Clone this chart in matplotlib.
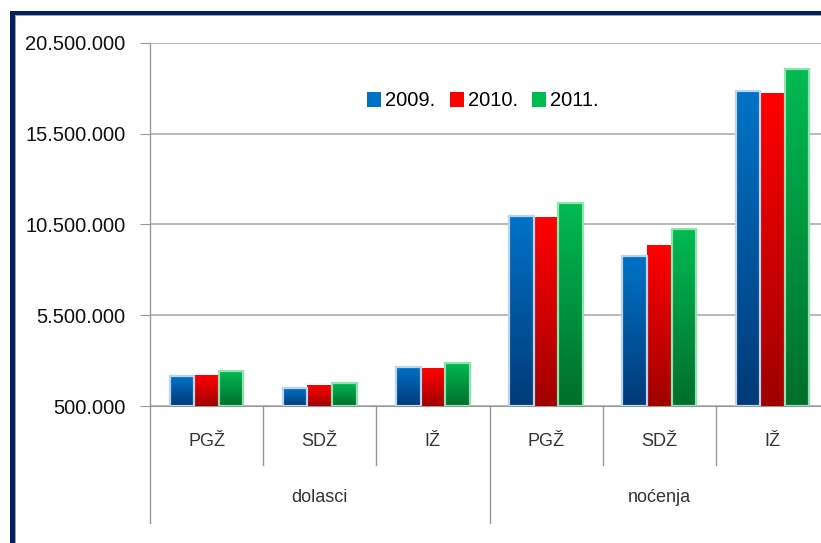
import numpy as np
import matplotlib.pyplot as plt
from matplotlib.colors import LinearSegmentedColormap
from matplotlib.patches import Rectangle

plt.rcParams['font.family'] = ['Liberation Sans', 'DejaVu Sans']

# podaci (procjena s grafa)
regije = ['PGŽ', 'SDŽ', 'IŽ', 'PGŽ', 'SDŽ', 'IŽ']
grupe = ['dolasci', 'noćenja']
godine = ['2009.', '2010.', '2011.']
v2009 = [2150000, 1470000, 2650000, 10950000, 8750000, 17860000]
v2010 = [2200000, 1640000, 2590000, 10870000, 9320000, 17690000]
v2011 = [2400000, 1770000, 2870000, 11700000, 10220000, 19070000]
y_ticks = [500000, 5500000, 10500000, 15500000, 20500000]

boje = [('#0072C6', '#003A78'), ('#FF0000', '#A00000'), ('#00BA52', '#006E2C')]
rubovi = ['#BCD3EE', None, '#8FE3AE']

W, H = 821, 543
fig = plt.figure(figsize=(W / 100, H / 100), dpi=100)
ax = fig.add_axes([150 / W, (H - 406) / H, 679 / W, (406 - 42.7) / H])

ymin, ymax = 500000, 20500000
x = np.arange(len(regije))
w = 0.217
for i, vals in enumerate([v2009, v2010, v2011]):
    cmap = LinearSegmentedColormap.from_list('g%d' % i, [boje[i][1], boje[i][0]])
    grad = np.linspace(0, 1, 64).reshape(-1, 1)
    for xi, v in zip(x, vals):
        x0 = xi + (i - 1) * w - w / 2
        ax.imshow(grad, extent=[x0, x0 + w, ymin, v], origin='lower',
                  aspect='auto', cmap=cmap, zorder=3, interpolation='bilinear')
        if rubovi[i]:
            ax.add_patch(Rectangle((x0, ymin), w, v - ymin, fill=False,
                                   edgecolor=rubovi[i], lw=1.6, zorder=4))
    ax.bar([0], [0], color=boje[i][0], label=godine[i])

ax.set_xlim(-0.5, len(regije) - 0.5)
ax.set_ylim(ymin, ymax)
ax.set_yticks(y_ticks)
ax.set_yticklabels(['{:,}'.format(t).replace(',', '.') for t in y_ticks],
                   fontsize=14.5, color='#111111')
ax.tick_params(axis='y', length=7, color='#999999', pad=10.5)
ax.set_xticks([])
ax.grid(axis='y', color='#A6A6A6', lw=1.1, zorder=0)
for s in ['top', 'right']:
    ax.spines[s].set_visible(False)
ax.spines['left'].set_visible(False)
ax.spines['bottom'].set_color('#999999')

# hijerarhijska os x
tr = ax.get_xaxis_transform()
for xs in [0.5, 1.5, 3.5, 4.5]:
    ax.plot([xs, xs], [0, -0.162], color='#999999', lw=1, transform=tr, clip_on=False)
for xs in [-0.5, 2.5, 5.5]:
    ax.plot([xs, xs], [1, -0.322] if xs == -0.5 else [0, -0.322],
            color='#999999', lw=1, transform=tr, clip_on=False)
for xi, r in zip(x, regije):
    ax.text(xi, -0.099, r, transform=tr, ha='center', va='center',
            fontsize=13, color='#333333')
for gi, g in enumerate(grupe):
    ax.text(gi * 3 + 1, -0.251, g, transform=tr, ha='center', va='center',
            fontsize=13, color='#333333')

leg = ax.legend(loc='center', bbox_to_anchor=(483 / W, (H - 101) / H),
                bbox_transform=fig.transFigure, ncol=3, frameon=False,
                fontsize=14.5, handlelength=0.7, handleheight=0.7,
                handletextpad=0.2, columnspacing=0.7, borderpad=0)

# okvir
fig.add_artist(Rectangle((10 / W, 0), 5 / W, (H - 11) / H, transform=fig.transFigure,
                         color='#00205F', lw=0))
fig.add_artist(Rectangle((10 / W, (H - 15) / H), 1, 4 / H, transform=fig.transFigure,
                         color='#00205F', lw=0))
fig.add_artist(Rectangle((15 / W, 0), 1.2 / W, (H - 15) / H, transform=fig.transFigure,
                         color='#A0A0A0', lw=0))
fig.add_artist(Rectangle((15 / W, (H - 16.2) / H), 1, 1.2 / H, transform=fig.transFigure,
                         color='#A0A0A0', lw=0))

fig.savefig('out.png', dpi=100)
